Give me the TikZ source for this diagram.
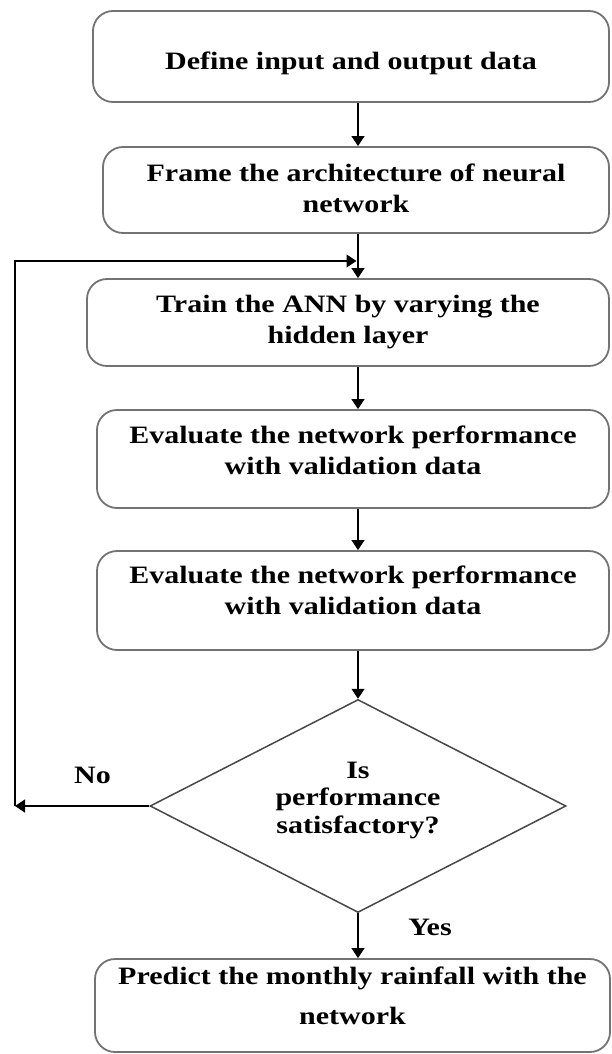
\documentclass[tikz,border=0pt]{standalone}
\usepackage{fontspec}
\setmainfont{Liberation Serif}[FakeStretch=1.2]
\usetikzlibrary{arrows.meta,shapes.geometric}
\definecolor{boxline}{gray}{0.45}
\definecolor{decline}{gray}{0.28}
\begin{document}
\begin{tikzpicture}[x=1pt,y=-1pt,
  every node/.style={font=\bfseries\fontsize{25}{31}\selectfont},
  stepbox/.style={draw=boxline, line width=1.8pt, rounded corners=20pt,
    align=center, inner sep=0pt, text depth=0pt},
  flow/.style={draw=black, line width=1.3pt, -{Triangle[length=10pt,width=13pt]}},
  decision/.style={diamond, draw=decline, line width=1.5pt, aspect=2,
    inner sep=0pt, align=center, minimum width=416pt, minimum height=213pt,
    font=\bfseries\fontsize{25}{27.5}\selectfont},
]
\useasboundingbox (0,0) rectangle (611,1054);

% process steps (text height places the last text line inside each box)
\node[stepbox, minimum width=516pt, minimum height=91pt, text height=27pt]
  (define) at (351,56.5) {Define input and output data};
\node[stepbox, minimum width=506pt, minimum height=86pt, text height=44pt]
  (frame) at (356,190) {Frame the architecture of neural\\network};
\node[stepbox, minimum width=522pt, minimum height=87pt, text height=41pt]
  (train) at (348,322.5) {Train the ANN by varying the\\hidden layer};
\node[stepbox, minimum width=512pt, minimum height=98pt, text height=30pt]
  (evalA) at (353,459) {Evaluate the network performance\\with validation data};
\node[stepbox, minimum width=512pt, minimum height=99pt, text height=27pt]
  (evalB) at (353,600.5) {Evaluate the network performance\\with validation data};
\node[decision, text height=54pt, text depth=0pt]
  (check) at (358,806) {Is\\performance\\satisfactory?};
\node[stepbox, minimum width=515pt, minimum height=93pt, text height=37pt,
  font=\bfseries\fontsize{25}{40}\selectfont]
  (predict) at (352.5,1005.5) {Predict the monthly rainfall with the\\network};

% branch labels
\node[anchor=base] (nolabel) at (92.5,783) {No};
\node[anchor=base] (yeslabel) at (430,935) {Yes};

% main flow
\draw[flow] (define.south -| check.center) -- (frame.north -| check.center);
\draw[flow] (frame.south -| check.center) -- (train.north -| check.center);
\draw[flow] (train.south -| check.center) -- (evalA.north -| check.center);
\draw[flow] (evalA.south -| check.center) -- (evalB.north -| check.center);
\draw[flow] (evalB.south -| check.center) -- (check.north);
\draw[flow] (check.south) -- (predict.north -| check.center);

% feedback loop back to training
\coordinate (looptop) at (15,261);
\coordinate (rejoin) at (356.5,261);
\coordinate (loopbottom) at (check.west -| looptop);
\draw[flow] (check.west) -- (loopbottom);
\draw[flow] (loopbottom) -- (looptop) -- (rejoin);
\end{tikzpicture}
\end{document}
